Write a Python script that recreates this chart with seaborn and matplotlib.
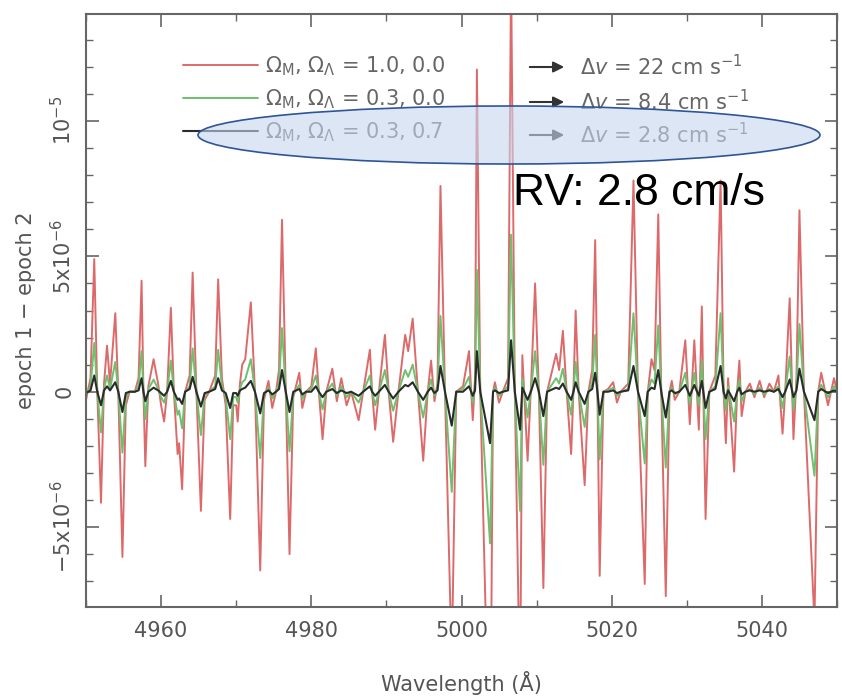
import numpy as np
import matplotlib
matplotlib.use("Agg")
import matplotlib.pyplot as plt
import seaborn as sns
from matplotlib.patches import Ellipse
from matplotlib.ticker import MultipleLocator, FixedLocator, FixedFormatter

# spectrum difference (epoch 1 - epoch 2), values in units of 1e-6
wavelength = [
    4950.0, 4950.6, 4951.1, 4951.5, 4952.0, 4952.4, 4952.8, 4953.2, 4953.9, 4954.3,
    4954.85, 4955.3, 4955.8, 4956.5, 4957.0, 4957.4, 4957.65, 4957.9, 4958.3, 4959.0,
    4959.6, 4960.0, 4960.4, 4960.8, 4961.3, 4961.7, 4962.2, 4962.4, 4962.8, 4963.2,
    4963.8, 4964.2, 4964.7, 4965.3, 4965.8, 4966.4, 4967.2, 4967.6, 4968.1, 4968.6,
    4969.2, 4969.6, 4970.0, 4970.2, 4970.5, 4970.8, 4971.2, 4971.95, 4972.5, 4973.2,
    4973.7, 4974.3, 4974.8, 4975.3, 4975.7, 4976.1, 4976.6, 4977.1, 4977.6, 4978.4,
    4978.8, 4979.3, 4980.0, 4980.6, 4981.0, 4981.5, 4982.0, 4982.8, 4983.4, 4984.0,
    4984.7, 4985.3, 4986.3, 4986.9, 4987.8, 4988.1, 4988.5, 4989.0, 4989.8, 4990.3,
    4990.9, 4991.6, 4992.5, 4992.9, 4993.5, 4994.2, 4994.9, 4995.5, 4995.95, 4996.4,
    4996.8, 4997.2, 4997.8, 4998.7, 4999.3, 5000.2, 5001.0, 5001.5, 5001.8, 5002.05,
    5002.5, 5003.8, 5004.2, 5004.45, 5005.0, 5005.5, 5006.2, 5006.6, 5007.1, 5007.8,
    5008.1, 5008.8, 5009.3, 5009.8, 5010.3, 5010.9, 5011.4, 5012.6, 5013.0, 5013.5,
    5014.0, 5014.6, 5014.9, 5015.2, 5015.6, 5016.4, 5016.9, 5017.4, 5017.8, 5018.1,
    5018.4, 5018.9, 5019.5, 5020.2, 5020.7, 5021.2, 5022.2, 5022.9, 5023.5, 5024.4,
    5024.8, 5025.3, 5025.7, 5026.2, 5026.6, 5027.2, 5027.7, 5028.0, 5028.4, 5029.0,
    5029.8, 5030.4, 5031.0, 5031.6, 5032.0, 5032.2, 5032.5, 5033.0, 5033.8, 5034.5,
    5034.9, 5035.2, 5035.5, 5036.3, 5036.7, 5037.0, 5037.3, 5037.8, 5038.4, 5039.0,
    5039.7, 5040.3, 5041.0, 5041.6, 5042.2, 5042.75, 5043.1, 5043.7, 5044.2, 5044.6,
    5045.0, 5045.6, 5047.0, 5047.5, 5047.9, 5048.8, 5049.6, 5050.0,
]

# Omega_M, Omega_L = 1.0, 0.0
red_diff = [
    -0.3, 0.5, 4.9, 0.0, -4.1, 0.3, 1.7, 0.3, 2.9, 0.0,
    -6.1, -0.5, 0.0, 0.0, 0.5, 4.1, 0.0, -2.75, 0.2, 1.2,
    0.3, -0.5, -1.1, 0.0, 3.1, 0.0, -2.3, -1.9, -3.6, 0.0,
    0.6, 4.4, 0.0, -4.4, -0.3, 0.0, 0.6, 4.15, 0.5, -0.5,
    -4.7, -0.5, -0.5, -1.1, 0.3, 1.0, 1.2, 3.3, 0.0, -6.6,
    -0.3, 0.4, -0.6, 0.0, 0.8, 6.35, 0.0, -6.0, -0.2, 0.7,
    -0.6, 0.0, 0.2, 1.6, 0.0, -1.75, 0.0, 0.85, -0.35, 0.5,
    -0.5, 0.0, -1.05, 0.0, 1.55, 0.0, -1.4, 0.0, 2.1, 0.0,
    -1.85, 0.0, 2.1, 1.5, 2.7, 0.0, -2.55, 0.0, 1.15, -0.35,
    0.3, 7.6, 0.0, -10.0, 0.0, 0.2, 1.5, -1.05, 0.5, 11.9,
    0.0, -15.0, 0.0, 0.35, -0.4, 0.0, 0.5, 15.5, 0.0, -11.5,
    1.35, -2.55, 0.5, 4.0, 0.0, -7.25, 0.0, 1.4, 0.8, 2.25,
    0.0, -2.3, 0.0, 3.0, 0.0, -3.45, 0.0, 0.8, 5.6, 0.0,
    -6.8, 0.0, 0.1, 0.35, -0.4, 0.0, 0.3, 7.8, 0.0, -7.1,
    0.0, 1.2, 0.8, 6.55, 0.0, -7.55, 0.0, 0.4, -0.3, 0.0,
    1.9, -1.2, 1.9, -1.4, 3.15, 0.0, -4.7, 0.0, 0.6, 7.8,
    0.0, -1.9, 0.5, -2.95, 0.0, 1.15, -0.9, 0.0, 0.3, -0.2,
    0.4, -0.2, 0.3, 0.0, 0.6, -1.55, 0.0, 3.45, -1.75, 0.5,
    6.7, 0.0, -8.5, 0.0, 0.7, -0.5, 0.5, 0.0,
]

# Omega_M, Omega_L = 0.3, 0.0
green_diff = [
    -0.1, 0.2, 1.8, 0.0, -1.5, 0.1, 0.6, 0.1, 1.1, 0.0,
    -2.25, -0.2, 0.0, 0.0, 0.2, 1.5, 0.0, -1.0, 0.1, 0.45,
    0.1, -0.2, -0.4, 0.0, 1.15, 0.0, -0.85, -0.7, -1.35, 0.0,
    0.2, 1.6, 0.0, -1.6, -0.1, 0.0, 0.2, 1.55, 0.2, -0.2,
    -1.75, -0.2, -0.2, -0.4, 0.1, 0.35, 0.45, 1.2, 0.0, -2.45,
    -0.1, 0.15, -0.25, 0.0, 0.3, 2.35, 0.0, -2.2, -0.1, 0.25,
    -0.25, 0.0, 0.1, 0.6, 0.0, -0.65, 0.0, 0.3, -0.15, 0.2,
    -0.2, 0.0, -0.4, 0.0, 0.6, 0.0, -0.5, 0.0, 0.8, 0.0,
    -0.7, 0.0, 0.8, 0.55, 1.0, 0.0, -0.95, 0.0, 0.45, -0.15,
    0.1, 2.8, 0.0, -3.7, 0.0, 0.1, 0.55, -0.4, 0.2, 4.5,
    0.0, -5.6, 0.0, 0.15, -0.15, 0.0, 0.2, 5.8, 0.0, -4.4,
    0.5, -0.95, 0.2, 1.5, 0.0, -2.7, 0.0, 0.5, 0.3, 0.85,
    0.0, -0.85, 0.0, 1.1, 0.0, -1.3, 0.0, 0.3, 2.1, 0.0,
    -2.5, 0.0, 0.05, 0.15, -0.15, 0.0, 0.1, 2.9, 0.0, -2.65,
    0.0, 0.45, 0.3, 2.45, 0.0, -2.8, 0.0, 0.15, -0.1, 0.0,
    0.7, -0.45, 0.7, -0.5, 1.15, 0.0, -1.75, 0.0, 0.2, 2.9,
    0.0, -0.7, 0.2, -1.1, 0.0, 0.45, -0.35, 0.0, 0.1, -0.1,
    0.15, -0.1, 0.1, 0.0, 0.2, -0.6, 0.0, 1.3, -0.65, 0.2,
    2.5, 0.0, -3.1, 0.0, 0.25, -0.2, 0.2, 0.0,
]

# Omega_M, Omega_L = 0.3, 0.7
black_diff = [
    -0.05, 0.05, 0.6, 0.0, -0.5, 0.05, 0.2, 0.05, 0.35, 0.0,
    -0.75, -0.05, 0.0, 0.0, 0.05, 0.5, 0.0, -0.35, 0.0, 0.15,
    0.05, -0.05, -0.15, 0.0, 0.4, 0.0, -0.3, -0.25, -0.45, 0.0,
    0.1, 0.55, 0.0, -0.55, -0.05, 0.0, 0.1, 0.5, 0.05, -0.05,
    -0.6, -0.05, -0.05, -0.15, 0.05, 0.1, 0.15, 0.4, 0.0, -0.8,
    -0.05, 0.05, -0.1, 0.0, 0.1, 0.8, 0.0, -0.75, 0.0, 0.1,
    -0.1, 0.0, 0.0, 0.2, 0.0, -0.2, 0.0, 0.1, -0.05, 0.05,
    -0.05, 0.0, -0.15, 0.0, 0.2, 0.0, -0.15, 0.0, 0.25, 0.0,
    -0.25, 0.0, 0.25, 0.2, 0.35, 0.0, -0.3, 0.0, 0.15, -0.05,
    0.05, 0.95, 0.0, -1.25, 0.0, 0.0, 0.2, -0.15, 0.05, 1.5,
    0.0, -1.9, 0.0, 0.05, -0.05, 0.0, 0.05, 1.9, 0.0, -1.4,
    0.15, -0.3, 0.05, 0.5, 0.0, -0.9, 0.0, 0.15, 0.1, 0.3,
    0.0, -0.3, 0.0, 0.35, 0.0, -0.45, 0.0, 0.1, 0.7, 0.0,
    -0.85, 0.0, 0.0, 0.05, -0.05, 0.0, 0.05, 0.95, 0.0, -0.9,
    0.0, 0.15, 0.1, 0.8, 0.0, -0.95, 0.0, 0.05, -0.05, 0.0,
    0.25, -0.15, 0.25, -0.15, 0.4, 0.0, -0.6, 0.0, 0.1, 0.95,
    0.0, -0.25, 0.05, -0.35, 0.0, 0.15, -0.1, 0.0, 0.05, 0.0,
    0.05, 0.0, 0.05, 0.0, 0.1, -0.2, 0.0, 0.45, -0.2, 0.05,
    0.85, 0.0, -1.05, 0.0, 0.1, -0.05, 0.05, 0.0,
]

series_labels = [r"$\Omega_M$, $\Omega_\Lambda$ = 1.0, 0.0",
                 r"$\Omega_M$, $\Omega_\Lambda$ = 0.3, 0.0",
                 r"$\Omega_M$, $\Omega_\Lambda$ = 0.3, 0.7"]
shift_labels = [r"$\Delta\mathit{v}$ = 22 cm s$^{-1}$",
                r"$\Delta\mathit{v}$ = 8.4 cm s$^{-1}$",
                r"$\Delta\mathit{v}$ = 2.8 cm s$^{-1}$"]
ytick_vals = [-5e-6, 0, 5e-6, 1e-5]
ytick_labels = [r"$-$5x10$^{-6}$", "0", r"5x10$^{-6}$", r"10$^{-5}$"]

sns.set_style("ticks")
plt.rcParams["font.family"] = ["DejaVu Sans"]
plt.rcParams["mathtext.default"] = "regular"

W, H = 842, 696
fig = plt.figure(figsize=(W / 100, H / 100), dpi=100)
ax = fig.add_axes([86 / W, 1 - 607 / H, (837 - 86) / W, (607 - 14) / H])

colors = ["#dd6a6a", "#6fbf6f", "#2b2b2b"]
widths = [1.4, 1.4, 1.5]
wl = np.array(wavelength)
for vals, col, lw, lab in zip([red_diff, green_diff, black_diff], colors, widths, series_labels):
    sns.lineplot(x=wl, y=np.array(vals) * 1e-6, ax=ax, color=col, linewidth=lw,
                 estimator=None, sort=False, label=lab, solid_joinstyle="round")

ax.set_xlim(4950, 5050)
ax.set_ylim(-7.95e-6, 1.395e-5)
ax.xaxis.set_major_locator(MultipleLocator(20))
ax.xaxis.set_minor_locator(MultipleLocator(10))
ax.yaxis.set_major_locator(FixedLocator(ytick_vals))
ax.yaxis.set_major_formatter(FixedFormatter(ytick_labels))
ax.yaxis.set_minor_locator(MultipleLocator(1e-6))
ax.tick_params(which="both", direction="in", top=True, right=True, colors="#666666",
               labelcolor="#555555", labelsize=15)
ax.tick_params(which="major", length=9, width=1.2)
ax.tick_params(which="minor", length=5, width=1.0)
ax.tick_params(axis="x", pad=10)
ax.tick_params(axis="y", pad=8)
for t in ax.get_yticklabels():
    t.set_rotation(90)
    t.set_va("center")
for s in ax.spines.values():
    s.set_color("#666666")
    s.set_linewidth(1.5)

ax.set_xlabel("Wavelength (Å)", fontsize=15, color="#555555", labelpad=22)
ax.set_ylabel("epoch 1 − epoch 2", fontsize=15, color="#555555", labelpad=10)

leg = ax.legend(loc="upper left", bbox_to_anchor=(183 / W, 1 - 54 / H),
                bbox_transform=fig.transFigure, frameon=False, fontsize=15,
                handlelength=3.6, handletextpad=0.35, labelspacing=0.45,
                borderpad=0, borderaxespad=0)
for t in leg.get_texts():
    t.set_color("#666666")

rows_y = [67, 102, 135]
for y, txt in zip(rows_y, shift_labels):
    ax.annotate("", xy=(567 / W, 1 - y / H), xytext=(527 / W, 1 - y / H),
                xycoords="figure fraction", textcoords="figure fraction",
                arrowprops=dict(arrowstyle="-|>", color="#333333", lw=1.5, mutation_scale=16))
    fig.text(580 / W, 1 - y / H, txt, fontsize=15, color="#666666", va="center", ha="left")

# highlight overlay
ell = Ellipse((509 / W, 1 - 135 / H), 622 / W, 58 / H, transform=fig.transFigure,
              facecolor=(0.78, 0.84, 0.93, 0.6), edgecolor="#2f5597", linewidth=1.2, zorder=10)
fig.add_artist(ell)
fig.text(513 / W, 1 - 205 / H, "RV: 2.8 cm/s", fontsize=32, color="black",
         family=["Liberation Sans", "DejaVu Sans"], va="baseline", ha="left", zorder=11)

fig.savefig("out.png", dpi=100)
